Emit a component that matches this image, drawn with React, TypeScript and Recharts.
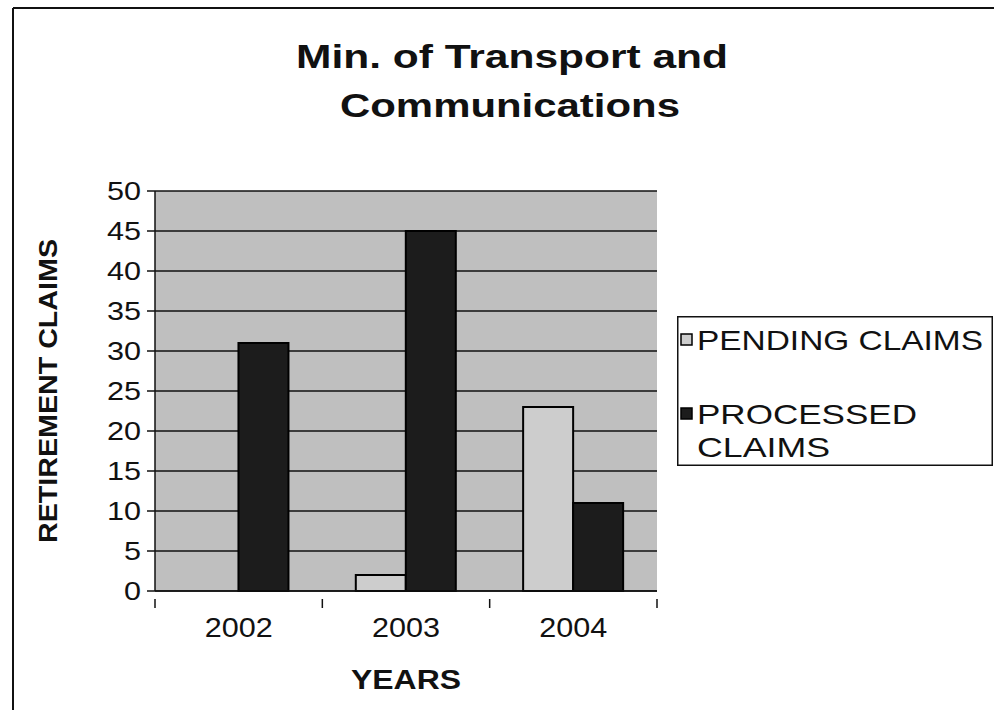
import { Bar, BarChart, CartesianGrid, Legend, XAxis, YAxis } from "recharts";

const years = ["2002", "2003", "2004"];
const pendingClaims = [0, 2, 23];
const processedClaims = [31, 45, 11];
const yTicks = [0, 5, 10, 15, 20, 25, 30, 35, 40, 45, 50];

const data = years.map((year, i) => ({
  year,
  pending: pendingClaims[i],
  processed: processedClaims[i],
}));

const FONT = '"Liberation Sans", Arial, Helvetica, sans-serif';
// half of one category band: plot is 502px wide, 3 categories
const HALF_BAND = 502 / 3 / 2;

function YTick({ x, y, payload }: any) {
  const s = String(payload.value);
  return (
    <text x={x - 4} y={y + 9} textAnchor="end" fontFamily={FONT} fontSize={26} fill="#111" textLength={s.length * 17} lengthAdjust="spacingAndGlyphs">
      {s}
    </text>
  );
}

function XTick({ x, y, payload, index, visibleTicksCount }: any) {
  const last = index === (visibleTicksCount ?? years.length) - 1;
  return (
    <g>
      <line x1={x - HALF_BAND} y1={y} x2={x - HALF_BAND} y2={y + 9} stroke="#111" strokeWidth={1.5} />
      {last && <line x1={x + HALF_BAND} y1={y} x2={x + HALF_BAND} y2={y + 9} stroke="#111" strokeWidth={1.5} />}
      <text x={x} y={y + 38} textAnchor="middle" fontFamily={FONT} fontSize={27} fill="#111" textLength={68} lengthAdjust="spacingAndGlyphs">
        {payload.value}
      </text>
    </g>
  );
}

function LegendBox({ payload }: any) {
  const items = payload || [];
  const pending = items.find((p: any) => p.dataKey === "pending");
  const processed = items.find((p: any) => p.dataKey === "processed");
  const txt = { fontFamily: FONT, fontSize: 28, fill: "#111", lengthAdjust: "spacingAndGlyphs" as const };
  return (
    <svg width={316} height={150} style={{ display: "block" }}>
      <rect x={0.75} y={0.75} width={314.5} height={148.5} fill="#fff" stroke="#111" strokeWidth={1.5} />
      <rect x={4} y={18} width={11} height={11} fill={pending?.color ?? "#cdcdcd"} stroke="#000" strokeWidth={1.5} />
      <text x={20} y={34} textLength={286} {...txt}>PENDING CLAIMS</text>
      <rect x={4} y={92} width={11} height={11} fill={processed?.color ?? "#1c1c1c"} stroke="#000" strokeWidth={1.5} />
      <text x={20} y={108} textLength={220} {...txt}>PROCESSED</text>
      <text x={20} y={141} textLength={133} {...txt}>CLAIMS</text>
    </svg>
  );
}

export default function App() {
  return (
    <div style={{ position: "absolute", left: 0, top: 0, width: 994, height: 718, background: "#fff" }}>
      <BarChart
        width={994}
        height={718}
        data={data}
        margin={{ top: 191, right: 337, bottom: 27, left: 95 }}
        barCategoryGap="20%"
        barGap={0}
      >
        <line x1={13} y1={8} x2={994} y2={8} stroke="#111" strokeWidth={2} />
        <line x1={13} y1={8} x2={13} y2={710} stroke="#111" strokeWidth={2} />
        <text x={512} y={68} textAnchor="middle" fontFamily={FONT} fontWeight="bold" fontSize={34} fill="#111" textLength={432} lengthAdjust="spacingAndGlyphs">
          Min. of Transport and
        </text>
        <text x={510} y={117} textAnchor="middle" fontFamily={FONT} fontWeight="bold" fontSize={34} fill="#111" textLength={340} lengthAdjust="spacingAndGlyphs">
          Communications
        </text>
        <CartesianGrid vertical={false} stroke="#111" strokeWidth={1.5} fill="#bfbfbf" fillOpacity={1} />
        <XAxis
          dataKey="year"
          height={100}
          axisLine={{ stroke: "#111", strokeWidth: 1.5 }}
          tickLine={false}
          tick={<XTick />}
          interval={0}
          label={{
            content: ({ viewBox }: any) => (
              <text
                x={viewBox.x + viewBox.width / 2}
                y={689}
                textAnchor="middle"
                fontFamily={FONT}
                fontWeight="bold"
                fontSize={27}
                fill="#111"
                textLength={110}
                lengthAdjust="spacingAndGlyphs"
              >
                YEARS
              </text>
            ),
          }}
        />
        <YAxis
          domain={[0, 50]}
          ticks={yTicks}
          width={60}
          interval={0}
          tickSize={8}
          tick={<YTick />}
          axisLine={{ stroke: "#111", strokeWidth: 1.5 }}
          tickLine={{ stroke: "#111", strokeWidth: 1.5 }}
          label={{
            content: ({ viewBox }: any) => {
              const cx = 48;
              const cy = viewBox.y + viewBox.height / 2;
              return (
                <text
                  x={cx}
                  y={cy}
                  transform={`rotate(-90 ${cx} ${cy})`}
                  textAnchor="middle"
                  dominantBaseline="central"
                  fontFamily={FONT}
                  fontWeight="bold"
                  fontSize={26}
                  fill="#111"
                  textLength={304}
                  lengthAdjust="spacingAndGlyphs"
                >
                  RETIREMENT CLAIMS
                </text>
              );
            },
          }}
        />
        <YAxis
          yAxisId="right"
          orientation="right"
          domain={[0, 50]}
          width={0}
          tick={false}
          tickLine={false}
          axisLine={{ stroke: "#111", strokeWidth: 1.5 }}
        />
        <Legend
          layout="vertical"
          align="center"
          verticalAlign="middle"
          width={316}
          height={150}
          wrapperStyle={{ left: 677, top: 316, width: 316, height: 150 }}
          content={<LegendBox />}
        />
        <Bar dataKey="pending" name="PENDING CLAIMS" fill="#cdcdcd" stroke="#000" strokeWidth={2} isAnimationActive={false} />
        <Bar dataKey="processed" name="PROCESSED CLAIMS" fill="#1c1c1c" stroke="#000" strokeWidth={2} isAnimationActive={false} />
      </BarChart>
    </div>
  );
}
